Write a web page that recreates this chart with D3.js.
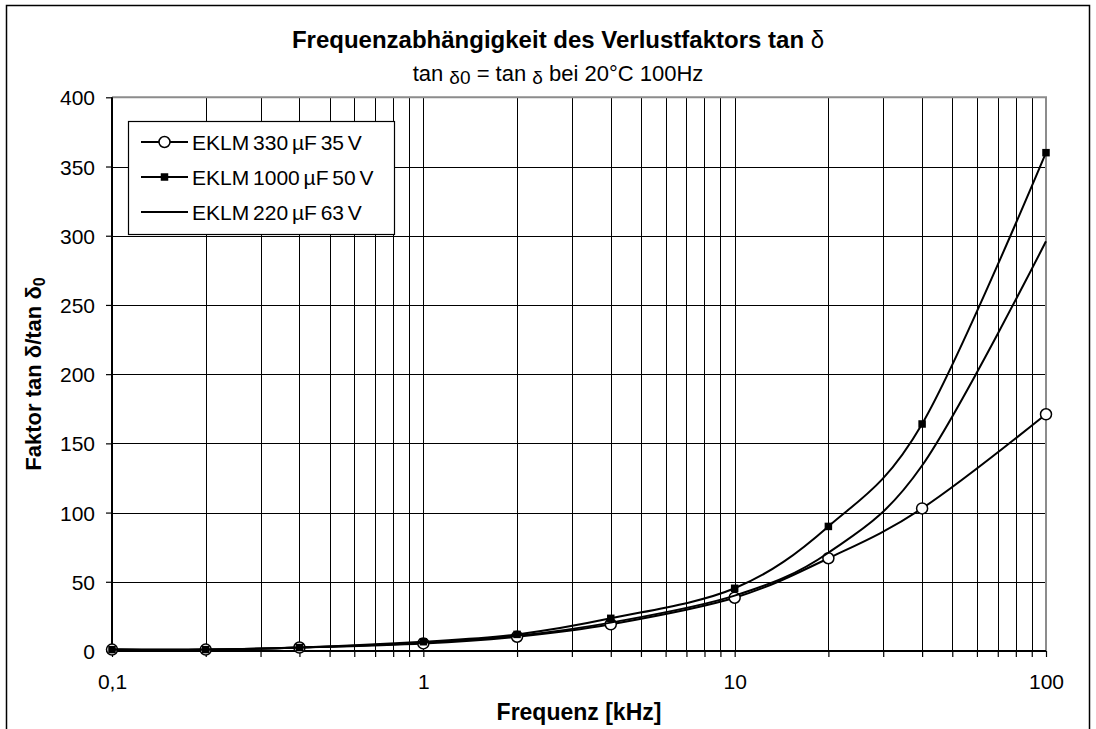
<!DOCTYPE html>
<html>
<head>
<meta charset="utf-8">
<script src="https://cdn.jsdelivr.net/npm/d3@7"></script>
<style>
  body { margin: 0; background: #fff; }
  text { font-family: "Liberation Sans", Arial, sans-serif; fill: #000; }
</style>
</head>
<body>
<script>
var svgWidth = 1096;
var svgHeight = 729;

// frequencies in kHz
var freqs = [0.1, 0.2, 0.4, 1, 2, 4, 10, 20, 40, 100];
var s330 = [1, 1, 2.5, 5.5, 10.3, 19.3, 38.5, 67, 103, 171];
var s1000 = [1, 1, 2.5, 6.7, 12, 23.6, 45.3, 90, 164, 360];
var s220 = [1, 1, 2.5, 6, 11, 20.5, 40, 71, 134, 296];
var seriesNames = ['EKLM 330 µF 35 V', 'EKLM 1000 µF 50 V', 'EKLM 220 µF 63 V'];
var yTicks = [0, 50, 100, 150, 200, 250, 300, 350, 400];
var xLabels = {0.1: '0,1', 1: '1', 10: '10', 100: '100'};

var pLeft = 112, pRight = 1046, pTop = 97.3, pBottom = 651;

var svg = d3.select('body').append('svg')
  .attr('width', svgWidth)
  .attr('height', svgHeight);

// outer frame
svg.append('rect')
  .attr('x', 6.5).attr('y', 5.5)
  .attr('width', 1083).attr('height', 740)
  .attr('fill', 'none').attr('stroke', '#000').attr('stroke-width', 1.5);

var x = d3.scaleLog().domain([0.1, 100]).range([pLeft, pRight]);
var y = d3.scaleLinear().domain([0, 400]).range([pBottom, pTop]);

// minor tick positions for the log axis
var xTickVals = [];
[0.1, 1, 10].forEach(function(dec){
  for (var k = 1; k < 10; k++) xTickVals.push(+(dec * k).toFixed(4));
});
xTickVals.push(100);

// vertical grid
svg.append('g').selectAll('line').data(xTickVals.slice(1, -1))
  .enter().append('line')
  .attr('x1', function(d){ return Math.round(x(d)) + 0.5; })
  .attr('x2', function(d){ return Math.round(x(d)) + 0.5; })
  .attr('y1', pTop).attr('y2', pBottom)
  .attr('stroke', '#000').attr('stroke-width', 1);

// horizontal grid
svg.append('g').selectAll('line').data(yTicks.slice(1, -1))
  .enter().append('line')
  .attr('x1', pLeft).attr('x2', pRight)
  .attr('y1', function(d){ return Math.round(y(d)) + 0.5; })
  .attr('y2', function(d){ return Math.round(y(d)) + 0.5; })
  .attr('stroke', '#000').attr('stroke-width', 1);

// grey plot border (top, right)
svg.append('path')
  .attr('d', 'M' + pLeft + ',' + pTop + 'H' + pRight + 'V' + pBottom)
  .attr('fill', 'none').attr('stroke', '#8c8c8c').attr('stroke-width', 2);

// y axis
var yAxis = svg.append('g')
  .attr('transform', 'translate(' + pLeft + ',0)')
  .call(d3.axisLeft(y).tickValues(yTicks).tickSize(6).tickPadding(11).tickFormat(d3.format('d')));
yAxis.select('.domain').attr('stroke', '#000').attr('stroke-width', 2).attr('d', 'M0,' + pTop + 'V' + pBottom);
yAxis.selectAll('.tick line').attr('stroke', '#000').attr('stroke-width', 1.2);
yAxis.selectAll('.tick text').style('font-size', '21px').attr('dy', '0.36em');

// x axis
var xAxis = svg.append('g')
  .attr('transform', 'translate(0,' + pBottom + ')')
  .call(d3.axisBottom(x).tickValues(xTickVals).tickSize(6).tickPadding(17)
    .tickFormat(function(d){ return xLabels[d] || ''; }));
xAxis.select('.domain').attr('stroke', '#000').attr('stroke-width', 2).attr('d', 'M' + pLeft + ',0H' + pRight);
xAxis.selectAll('.tick line').attr('stroke', '#000').attr('stroke-width', 1.2);
xAxis.selectAll('.tick text').style('font-size', '21px');

// lines
var line = d3.line()
  .x(function(d){ return x(d[0]); })
  .y(function(d){ return y(d[1]); })
  .curve(d3.curveCatmullRom.alpha(0));

var drawLine = function(vals){
  svg.append('path')
    .datum(freqs.map(function(f, i){ return [f, vals[i]]; }))
    .attr('d', line)
    .attr('fill', 'none').attr('stroke', '#000').attr('stroke-width', 2);
}

// same order as the original: series 1 with circles, series 2 with squares, then series 3
drawLine(s330);
svg.append('g').selectAll('circle').data(freqs)
  .enter().append('circle')
  .attr('cx', function(d){ return x(d); })
  .attr('cy', function(d, i){ return y(s330[i]); })
  .attr('r', 5.5)
  .attr('fill', '#fff').attr('stroke', '#000').attr('stroke-width', 1.5);

drawLine(s1000);
svg.append('g').selectAll('rect').data(freqs)
  .enter().append('rect')
  .attr('x', function(d){ return x(d) - 3.75; })
  .attr('y', function(d, i){ return y(s1000[i]) - 3.75; })
  .attr('width', 7.5).attr('height', 7.5)
  .attr('fill', '#000');

drawLine(s220);

// legend
var lg = svg.append('g');
lg.append('rect')
  .attr('x', 128.5).attr('y', 121.5).attr('width', 266).attr('height', 113)
  .attr('fill', '#fff').attr('stroke', '#000').attr('stroke-width', 1.2);
var legY = [142, 177, 212];
seriesNames.forEach(function(name, i){
  lg.append('line')
    .attr('x1', 141).attr('x2', 188).attr('y1', legY[i]).attr('y2', legY[i])
    .attr('stroke', '#000').attr('stroke-width', 2);
  lg.append('text').text(name)
    .attr('x', 192).attr('y', legY[i] + 7.5)
    .style('font-size', '21px').style('word-spacing', '-2px');
});
lg.append('circle').attr('cx', 164.5).attr('cy', legY[0]).attr('r', 5.5)
  .attr('fill', '#fff').attr('stroke', '#000').attr('stroke-width', 1.5);
lg.append('rect').attr('x', 164.5 - 3.75).attr('y', legY[1] - 3.75)
  .attr('width', 7.5).attr('height', 7.5).attr('fill', '#000');

// titles
var t1 = svg.append('text')
  .attr('x', 558).attr('y', 48).attr('text-anchor', 'middle')
  .style('font-size', '24px').style('font-weight', 'bold');
t1.append('tspan').text('Frequenzabhängigkeit des Verlustfaktors tan ');
t1.append('tspan').text('δ').style('font-weight', 'normal');

var t2 = svg.append('text')
  .attr('x', 558).attr('y', 81).attr('text-anchor', 'middle')
  .style('font-size', '22px');
t2.append('tspan').text('tan ');
t2.append('tspan').text('δ').style('font-size', '19px').attr('dy', 3);
t2.append('tspan').text('0').style('font-size', '19px');
t2.append('tspan').text(' = tan ').attr('dy', -3);
t2.append('tspan').text('δ').style('font-size', '19px').attr('dy', 3);
t2.append('tspan').text(' bei 20°C 100Hz').attr('dy', -3);

svg.append('text')
  .attr('x', 579).attr('y', 720).attr('text-anchor', 'middle')
  .style('font-size', '23px').style('font-weight', 'bold')
  .text('Frequenz [kHz]');

var yt = svg.append('text')
  .attr('transform', 'translate(41,374) rotate(-90)')
  .attr('text-anchor', 'middle')
  .style('font-size', '22px').style('font-weight', 'bold');
yt.append('tspan').text('Faktor tan δ/tan δ');
yt.append('tspan').text('0').style('font-size', '16px').attr('dy', 4);
</script>
</body>
</html>
